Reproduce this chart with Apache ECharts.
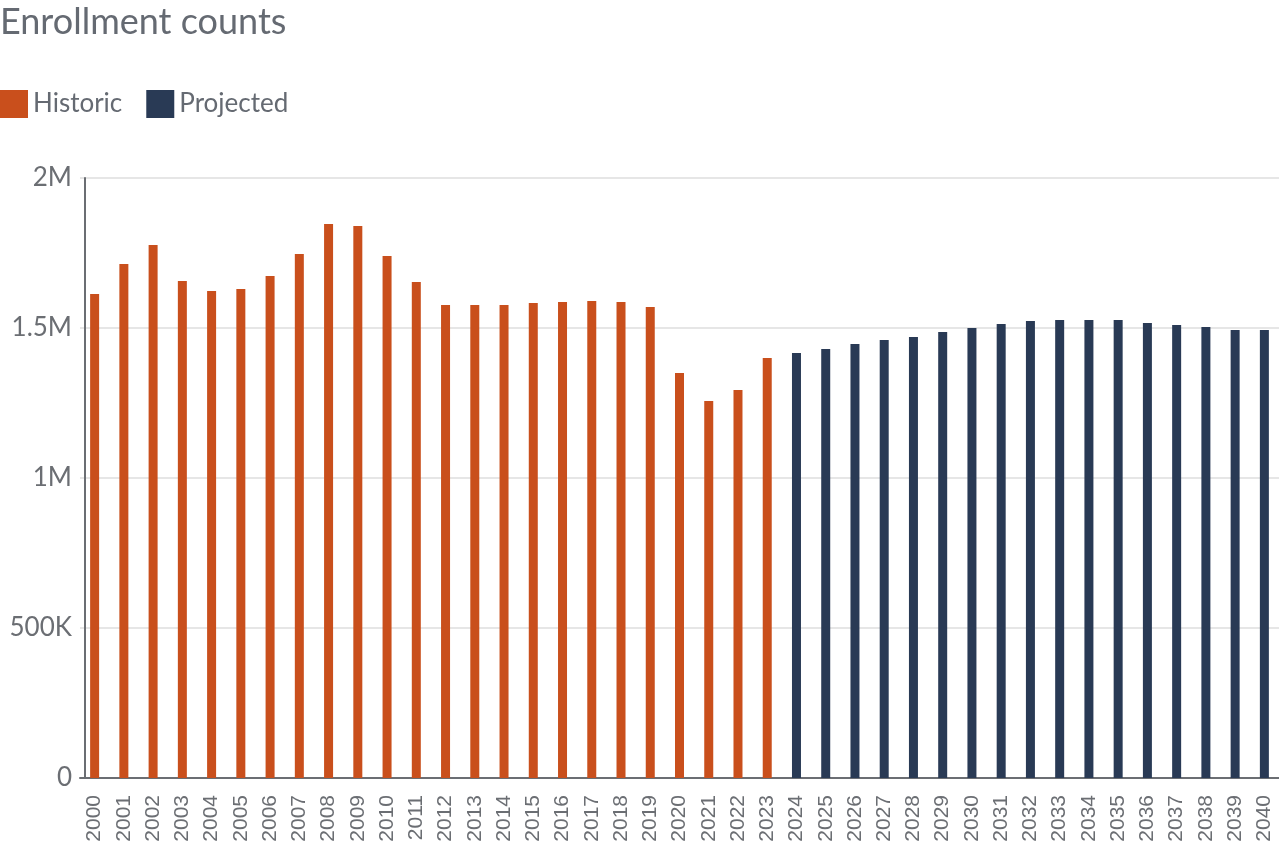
<!DOCTYPE html>
<html>
<head>
<meta charset="utf-8">
<style>
  html, body { margin: 0; padding: 0; background: #fff; }
  #chart { width: 1279px; height: 865px; }
</style>
<script src="https://cdn.jsdelivr.net/npm/echarts@6/dist/echarts.min.js"></script>
</head>
<body>
<div id="chart"></div>
<script>
var years = [];
for (var y = 2000; y <= 2040; y++) years.push(String(y));

// historic 2000-2023
var historic = [1613000, 1713000, 1777000, 1657000, 1623000, 1630000, 1673000, 1747000,
  1847000, 1840000, 1740000, 1653000, 1577000, 1577000, 1577000, 1583000, 1587000,
  1590000, 1587000, 1570000, 1350000, 1257000, 1293000, 1400000];
// projected 2024-2040
var projected = [1417000, 1430000, 1447000, 1460000, 1470000, 1487000, 1500000, 1513000,
  1523000, 1527000, 1527000, 1527000, 1517000, 1510000, 1503000, 1493000, 1493000];

var yTicks = [0, 500000, 1000000, 1500000, 2000000];
var yTickLabels = ['0', '500K', '1M', '1.5M', '2M'];

var histData = years.map(function (yr, i) { return i < historic.length ? historic[i] : '-'; });
var projData = years.map(function (yr, i) {
  return i < historic.length ? '-' : projected[i - historic.length];
});

var chart = echarts.init(document.getElementById('chart'));
var font = 'Lato, "Open Sans", sans-serif';

chart.setOption({
  animation: false,
  title: {
    text: 'Enrollment counts',
    left: 0,
    top: 4,
    padding: 0,
    textStyle: { color: '#656a72', fontSize: 36, fontWeight: 'normal', fontFamily: font }
  },
  legend: {
    left: 0,
    top: 90,
    padding: 0,
    itemWidth: 28,
    itemHeight: 28,
    itemGap: 24,
    icon: 'rect',
    textStyle: { color: '#656a72', fontSize: 26, fontFamily: font },
    data: ['Historic', 'Projected']
  },
  grid: { left: 80, right: -7, top: 178, bottom: 87 },
  xAxis: {
    type: 'category',
    data: years,
    axisLine: { lineStyle: { color: '#6b6e73', width: 2 } },
    axisTick: { show: false },
    axisLabel: {
      interval: 0,
      rotate: 90,
      color: '#6b6e73',
      fontSize: 21,
      fontFamily: '"Liberation Sans", Arial, sans-serif',
      margin: 17
    }
  },
  yAxis: {
    type: 'value',
    min: 0,
    max: 2000000,
    interval: 500000,
    offset: -5,
    axisLine: { show: true, lineStyle: { color: '#6b6e73', width: 2 } },
    axisTick: { show: false },
    splitLine: { lineStyle: { color: '#e6e6e6', width: 2 } },
    axisLabel: {
      color: '#6b6e73',
      fontSize: 26,
      fontFamily: font,
      margin: 13,
      formatter: function (v) { return yTickLabels[yTicks.indexOf(v)]; }
    }
  },
  series: [
    {
      name: 'Historic',
      type: 'bar',
      stack: 'all',
      barWidth: 9,
      itemStyle: { color: '#c94f1c' },
      data: histData
    },
    {
      name: 'Projected',
      type: 'bar',
      stack: 'all',
      barWidth: 9,
      itemStyle: { color: '#293a55' },
      data: projData
    }
  ]
});
</script>
</body>
</html>
